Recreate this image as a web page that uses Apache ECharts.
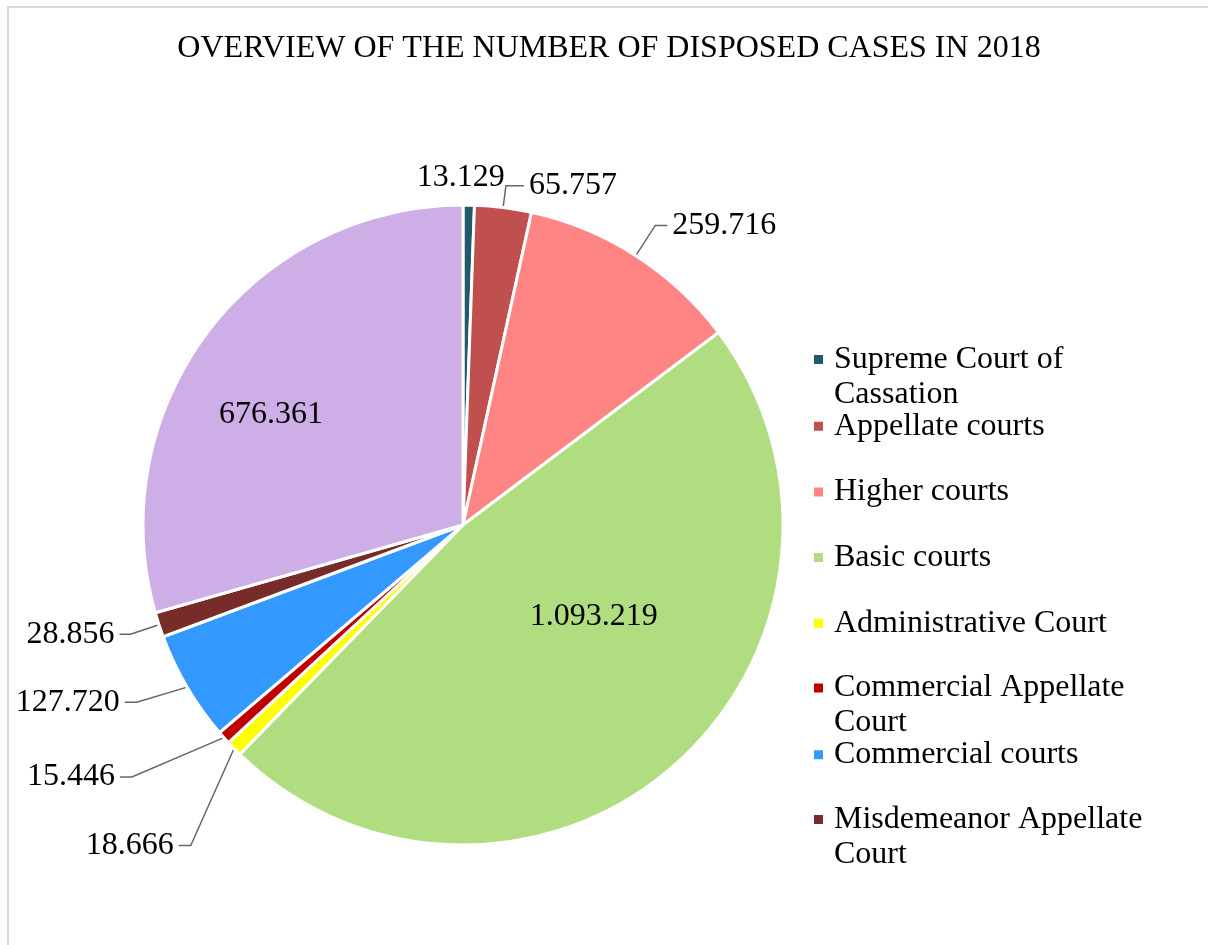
<!DOCTYPE html>
<html>
<head>
<meta charset="utf-8">
<title>Disposed cases 2018</title>
<script src="https://cdn.jsdelivr.net/npm/echarts@6/dist/echarts.min.js"></script>
<style>
html, body { margin: 0; padding: 0; background: #fff; }
#chart_box { position: relative; width: 1208px; height: 945px; }
#frame {
  position: absolute; left: 7px; top: 6px; width: 1220px; height: 960px;
  border-left: 2px solid #d9d9d9; border-top: 2px solid #d9d9d9;
}
#chart { position: absolute; left: 0; top: 0; width: 1208px; height: 945px; }
</style>
</head>
<body>
<div id="chart_box">
  <div id="frame"></div>
  <div id="chart"></div>
</div>
<script>
// data (slice order: clockwise from 12 o'clock)
var courts = [
  'Supreme Court of Cassation',
  'Appellate courts',
  'Higher courts',
  'Basic courts',
  'Administrative Court',
  'Commercial Appellate Court',
  'Commercial courts',
  'Misdemeanor Appellate Court',
  'Misdemeanor courts'
];
var disposed = [13129, 65757, 259716, 1093219, 18666, 15446, 127720, 28856, 676361];
var colors = ['#215a69', '#c0504d', '#ff8585', '#b1dd81', '#ffff00', '#c00000', '#3399ff', '#772c2a', '#cdaee6'];
// legend text as it wraps in the picture (last slice has no legend entry)
var legendLabels = [
  'Supreme Court of\nCassation',
  'Appellate courts',
  'Higher courts',
  'Basic courts',
  'Administrative Court',
  'Commercial Appellate\nCourt',
  'Commercial courts',
  'Misdemeanor Appellate\nCourt'
];

var FONT = '"Liberation Serif", "Times New Roman", serif';

function fmt(v) {
  return String(v).replace(/\B(?=(\d{3})+(?!\d))/g, '.');
}

// per slice label tweaks
var insideIdx = [3, 8];
var lineLen = [[6, 0], [22, 18], [36, 12], [0, 0], [20, 12], [20, 12], [26, 40], [30, 11], [0, 0]];
var labelShift = {
  0: [-57, -21],
  3: [23, -31],
  4: [-29, 83],
  5: [-77, 26],
  6: [0, 2],
  8: [-62, -12]
};
// labels whose leader line runs straight from the slice to a short stub
var bentIdx = [4, 5, 6];

var chartData = courts.map(function (name, i) {
  var item = { name: name, value: disposed[i], itemStyle: { color: colors[i] } };
  if (insideIdx.indexOf(i) >= 0) {
    item.label = { position: 'inside' };
  } else {
    item.labelLine = { length: lineLen[i][0], length2: lineLen[i][1], show: i !== 0 };
  }
  return item;
});

// one legend per entry so the spacing stays even when a name wraps;
// a blank first line keeps the marker level with the first text line
var legends = [];
legendLabels.forEach(function (lab, i) {
  var wrapped = lab.indexOf('\n') >= 0;
  var cy = 361 + i * 65.7;
  legends.push({
    orient: 'vertical',
    left: 812,
    top: cy - (wrapped ? 54 : 18),
    padding: 0,
    icon: 'rect',
    itemWidth: 11,
    itemHeight: 11,
    selectedMode: false,
    data: [courts[i]],
    formatter: function () { return wrapped ? ' \n' + lab : lab; },
    textStyle: {
      fontFamily: FONT,
      fontSize: 32,
      color: '#000',
      lineHeight: 35,
      padding: [0, 0, 0, 5]
    }
  });
});

var myChart = echarts.init(document.getElementById('chart'), null, { renderer: 'canvas' });
myChart.setOption({
  animation: false,
  title: {
    text: 'OVERVIEW OF THE NUMBER OF DISPOSED CASES IN 2018',
    left: 604,
    textAlign: 'center',
    top: 28,
    textStyle: { fontFamily: FONT, fontSize: 32, fontWeight: 'normal', color: '#000' }
  },
  legend: legends,
  series: [
    {
      name: 'Disposed cases',
      type: 'pie',
      center: [463, 525],
      radius: 320,
      startAngle: 90,
      clockwise: true,
      avoidLabelOverlap: false,
      itemStyle: { borderColor: '#fff', borderWidth: 3 },
      label: {
        show: true,
        fontFamily: FONT,
        fontSize: 32,
        color: '#000',
        formatter: function (p) { return fmt(p.value); }
      },
      labelLine: {
        lineStyle: { color: '#666', width: 1.5 }
      },
      labelLayout: function (p) {
        var s = labelShift[p.dataIndex] || [0, 0];
        var out = { dx: s[0], dy: s[1] };
        if (bentIdx.indexOf(p.dataIndex) >= 0 && p.labelLinePoints) {
          var r = p.labelRect;
          var cy = r.y + r.height / 2 + s[1];
          var right = r.x + r.width + s[0];
          out.labelLinePoints = [p.labelLinePoints[0], [right + 17, cy], [right + 5, cy]];
        }
        return out;
      },
      emphasis: { disabled: true },
      data: chartData
    }
  ]
});
</script>
</body>
</html>
